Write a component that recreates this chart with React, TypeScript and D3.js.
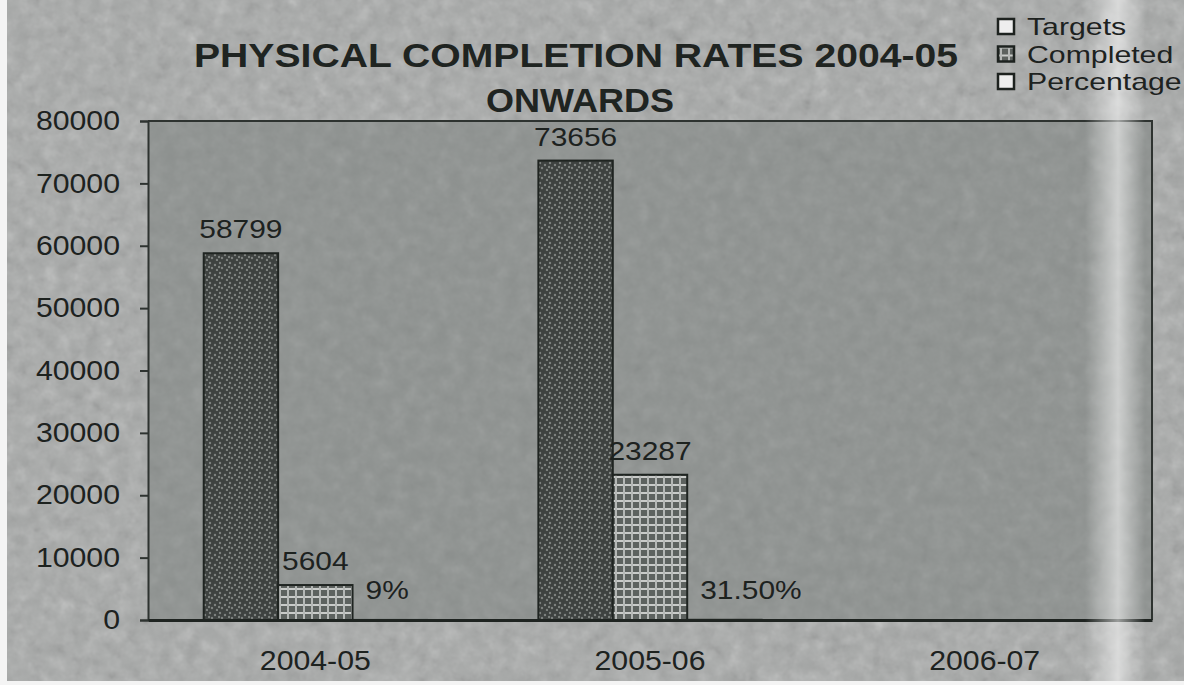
import { useEffect, useRef } from 'react'
import * as d3 from 'd3'

// Chart data
const categories = ['2004-05', '2005-06', '2006-07']
const seriesNames = ['Targets', 'Completed', 'Percentage']
const targets = [58799, 73656, null]
const completed = [5604, 23287, null]
const percentage = [9, 31.5, null]
const percentLabels = ['9%', '31.50%', '']
const yTicks = [0, 10000, 20000, 30000, 40000, 50000, 60000, 70000, 80000]

const W = 1184
const H = 685
const FONT = '"Liberation Sans", Arial, sans-serif'

// the scan is a little wider than it is tall, so stretch the glyphs
function stretch(sel: any, k: number) {
  sel.each(function (this: SVGTextElement) {
    const len = this.getComputedTextLength()
    if (len > 0) {
      d3.select(this).attr('textLength', len * k).attr('lengthAdjust', 'spacingAndGlyphs')
    }
  })
}

export default function App() {
  const svgRef = useRef<SVGSVGElement | null>(null)

  useEffect(() => {
    if (!svgRef.current) return
    const svg = d3.select(svgRef.current)
    svg.selectAll('*').remove()

    const margin = { top: 121, right: 32, bottom: 65, left: 148 }
    const plotW = W - margin.left - margin.right
    const plotH = H - margin.top - margin.bottom

    const defs = svg.append('defs')

    // scanned-paper grain
    const grain = defs.append('filter').attr('id', 'grain')
      .attr('x', 0).attr('y', 0).attr('width', '100%').attr('height', '100%')
    grain.append('feTurbulence').attr('type', 'fractalNoise')
      .attr('baseFrequency', 0.07).attr('numOctaves', 3).attr('seed', 4)
    grain.append('feColorMatrix').attr('type', 'saturate').attr('values', 0)

    // bright vertical streak from the scanner, right side
    const streak = defs.append('linearGradient').attr('id', 'streak')
    streak.append('stop').attr('offset', '0%').attr('stop-color', '#fff').attr('stop-opacity', 0)
    streak.append('stop').attr('offset', '55%').attr('stop-color', '#fff').attr('stop-opacity', 0.55)
    streak.append('stop').attr('offset', '100%').attr('stop-color', '#fff').attr('stop-opacity', 0)

    // targets: dark speckled fill
    const pT = defs.append('pattern').attr('id', 'pTargets')
      .attr('patternUnits', 'userSpaceOnUse').attr('width', 10).attr('height', 10)
    pT.append('rect').attr('width', 10).attr('height', 10).attr('fill', '#3e4240')
    ;[[2, 2], [7, 4], [4, 7], [9, 9], [1, 6]].forEach(([cx, cy]) => {
      pT.append('circle').attr('cx', cx).attr('cy', cy).attr('r', 1.2).attr('fill', '#7d827f')
    })

    // completed: grid/checked fill
    const pC = defs.append('pattern').attr('id', 'pCompleted')
      .attr('patternUnits', 'userSpaceOnUse').attr('width', 8).attr('height', 8)
    pC.append('rect').attr('width', 8).attr('height', 8).attr('fill', '#5d625f')
    pC.append('rect').attr('x', 0).attr('y', 3).attr('width', 8).attr('height', 2).attr('fill', '#c9cbc9')
    pC.append('rect').attr('x', 3).attr('y', 0).attr('width', 2).attr('height', 8).attr('fill', '#b5b8b6')

    // background
    svg.append('rect').attr('width', W).attr('height', H).attr('fill', '#a6a8a7')
    svg.append('rect').attr('width', W).attr('height', H)
      .attr('filter', 'url(#grain)').attr('opacity', 0.45)

    const x0 = d3.scaleBand().domain(categories).range([0, plotW]).paddingInner(0.333).paddingOuter(0.1665)
    const x1 = d3.scaleBand().domain(seriesNames).range([0, x0.bandwidth()])
    const y = d3.scaleLinear().domain([0, 80000]).range([plotH, 0])

    const g = svg.append('g').attr('transform', `translate(${margin.left},${margin.top})`)

    // plot area
    g.append('rect').attr('width', plotW).attr('height', plotH).attr('fill', '#8d918f')
    g.append('rect').attr('width', plotW).attr('height', plotH)
      .attr('filter', 'url(#grain)').attr('opacity', 0.2)

    // bars
    const series = [
      { name: 'Targets', values: targets, fill: 'url(#pTargets)' },
      { name: 'Completed', values: completed, fill: 'url(#pCompleted)' },
      { name: 'Percentage', values: percentage, fill: '#f2f2f2' },
    ]
    series.forEach((s) => {
      s.values.forEach((v, i) => {
        if (v == null) return
        const bx = (x0(categories[i]) ?? 0) + (x1(s.name) ?? 0)
        g.append('rect')
          .attr('x', bx).attr('y', y(v))
          .attr('width', x1.bandwidth()).attr('height', plotH - y(v))
          .attr('fill', s.fill).attr('stroke', '#1f2421').attr('stroke-width', 2)
        const isPct = s.name === 'Percentage'
        g.append('text')
          .attr('class', 'lbl')
          .attr('x', isPct ? bx + 13 : bx + x1.bandwidth() / 2).attr('y', y(v) - (isPct ? 21 : 15))
          .attr('text-anchor', isPct ? 'start' : 'middle')
          .attr('font-family', FONT).attr('font-size', 26).attr('fill', '#1d221f')
          .text(isPct ? percentLabels[i] : String(v))
      })
    })
    stretch(g.selectAll('text.lbl'), 1.15)

    // frame of plot area (top + right)
    g.append('path')
      .attr('d', `M0,0H${plotW}V${plotH}`)
      .attr('fill', 'none').attr('stroke', '#2e3330').attr('stroke-width', 2)

    // y axis
    const yAxis = g.append('g').call(d3.axisLeft(y).tickValues(yTicks).tickSize(8).tickPadding(20).tickFormat(d3.format('d')))
    yAxis.select('.domain').attr('stroke', '#2e3330').attr('stroke-width', 2)
    yAxis.selectAll('line').attr('stroke', '#2e3330').attr('stroke-width', 2)
    yAxis.selectAll('text').attr('font-family', FONT).attr('font-size', 27).attr('fill', '#1d221f')
    stretch(yAxis.selectAll('text'), 1.12)

    // x axis
    const xAxis = g.append('g').attr('transform', `translate(0,${plotH})`)
      .call(d3.axisBottom(x0).tickSize(0).tickPadding(31))
    xAxis.select('.domain').attr('stroke', '#1f2421').attr('stroke-width', 3)
    xAxis.selectAll('text').attr('font-family', FONT).attr('font-size', 27).attr('fill', '#1d221f')
    stretch(xAxis.selectAll('text'), 1.12)

    // scanner streak and white scan edges
    svg.append('rect').attr('x', 1085).attr('y', 0).attr('width', 60).attr('height', H).attr('fill', 'url(#streak)')
    svg.append('rect').attr('x', 0).attr('y', 0).attr('width', 7).attr('height', H).attr('fill', '#f4f4f4')
    svg.append('rect').attr('x', 0).attr('y', H - 4).attr('width', W).attr('height', 4).attr('fill', '#f4f4f4')

    // title
    const title = svg.append('text').attr('text-anchor', 'middle')
      .attr('font-family', FONT).attr('font-size', 33).attr('font-weight', 'bold').attr('fill', '#1f2421')
    title.append('tspan').attr('x', 576).attr('y', 67)
      .attr('textLength', 764).attr('lengthAdjust', 'spacingAndGlyphs')
      .text('PHYSICAL COMPLETION RATES 2004-05')
    title.append('tspan').attr('x', 580).attr('y', 112)
      .attr('textLength', 188).attr('lengthAdjust', 'spacingAndGlyphs')
      .text('ONWARDS')

    // legend
    const legend = svg.append('g').attr('transform', 'translate(997,0)')
    series.forEach((s, i) => {
      const row = legend.append('g').attr('transform', `translate(0,${i * 27.5})`)
      row.append('rect').attr('x', 1).attr('y', 19).attr('width', 16).attr('height', 15)
        .attr('fill', s.name === 'Completed' ? 'url(#pCompleted)' : '#eeeeee')
        .attr('stroke', '#1d221f').attr('stroke-width', 2.5)
      row.append('text').attr('class', 'leg').attr('x', 30).attr('y', 35)
        .attr('font-family', FONT).attr('font-size', 24).attr('fill', '#1d221f')
        .text(s.name)
    })
    stretch(legend.selectAll('text.leg'), 1.26)
  }, [])

  return (
    <div style={{ position: 'absolute', top: 0, left: 0 }}>
      <svg ref={svgRef} width={W} height={H} style={{ display: 'block' }} />
    </div>
  )
}
